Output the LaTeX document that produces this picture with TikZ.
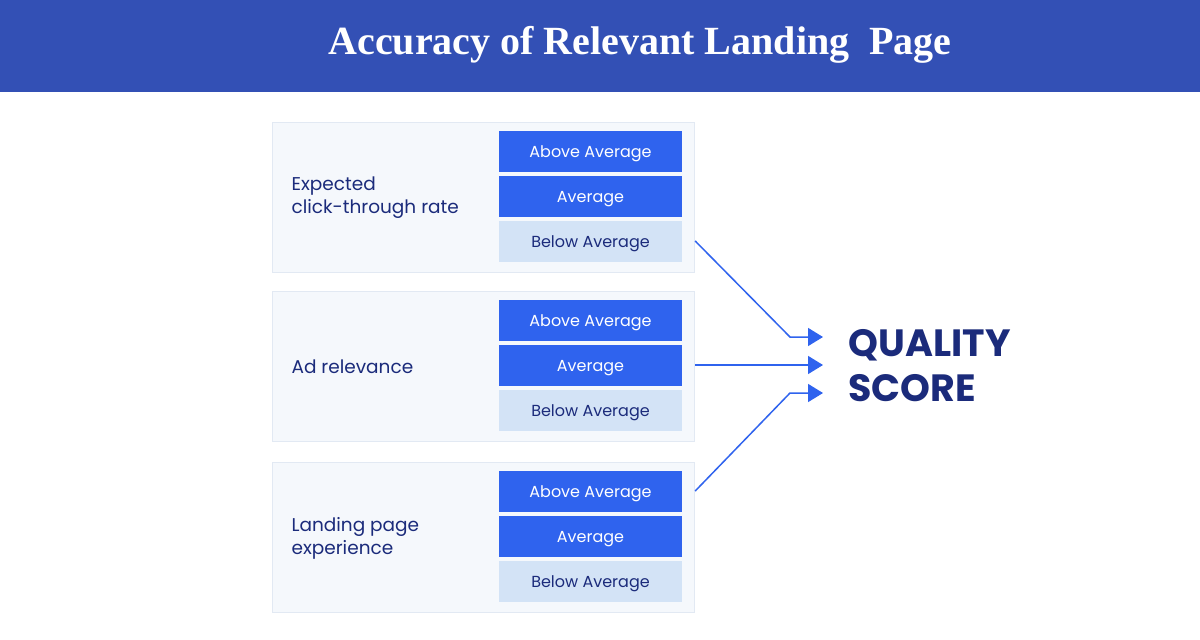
\documentclass[tikz,border=0pt]{standalone}
\usepackage{fontspec}
\setmainfont{Liberation Serif}
\newfontfamily\labfont{Poppins}
\newfontfamily\scorefont{Poppins}
\usetikzlibrary{positioning,arrows.meta}
\definecolor{Banda}{HTML}{3350B5}
\definecolor{Fuerte}{HTML}{2F63EE}
\definecolor{Suave}{HTML}{D3E3F6}
\definecolor{Marino}{HTML}{1B2B7B}
\definecolor{Fondo}{HTML}{F5F8FC}
\definecolor{Borde}{HTML}{E2E9F3}

\begin{document}
\begin{tikzpicture}[x=1pt,y=-1pt,
    panel/.style={draw=Borde,fill=Fondo,line width=1.2pt,minimum width=422,minimum height=150,inner sep=0,anchor=north west},
    rating/.style={minimum width=183,minimum height=41,inner sep=0,text height=12pt,text depth=0pt,font=\labfont\fontsize{16}{19}\selectfont},
    hi/.style={rating,fill=Fuerte,text=white},
    lo/.style={rating,fill=Suave,text=Marino},
    link/.style={Fuerte,line width=1.5pt,-{Triangle[length=15pt,width=18pt]}}]
  \useasboundingbox (0,0) rectangle (1200,640);
  \fill[white] (0,0) rectangle (1200,640);
  \fill[Banda] (0,0) rectangle (1200,92);
  \node[text=white,font=\bfseries\fontsize{40}{46}\selectfont] (title) at (640,45) {Accuracy of Relevant Landing~~Page};
  % three factor panels
  \foreach \n/\yy/\lab in {ctr/122/{Expected\\click-through rate},ad/291/{Ad relevance},lp/462/{Landing page\\experience}} {
    \node[panel] (\n) at (272,\yy) {};
    \node[anchor=west,align=left,text=Marino,font=\labfont\fontsize{18.5}{23}\selectfont] (\n-lab) at (288,\yy+76) {\lab};
    \node[hi] (\n-a) at (590.5,\yy+29) {Above Average};
    \node[hi] (\n-m) at (590.5,\yy+74) {Average};
    \node[lo] (\n-b) at (590.5,\yy+119) {Below Average};
  }
  \node[anchor=west,align=left,text=Marino,font=\scorefont\bfseries\fontsize{38}{45}\selectfont] (qs) at (845,366) {QUALITY\\SCORE};
  \coordinate (kA) at (790,337);
  \coordinate (kC) at (790,393);
  \coordinate (qA) at (823,337);
  \coordinate (qB) at (823,365);
  \coordinate (qC) at (823,393);
  \draw[link] (ctr-b.east -| ctr.east) -- (kA) -- (qA);
  \draw[link] (ad-m.east -| ad.east) -- (qB);
  \draw[link] (lp-a.east -| lp.east) -- (kC) -- (qC);
\end{tikzpicture}
\end{document}
